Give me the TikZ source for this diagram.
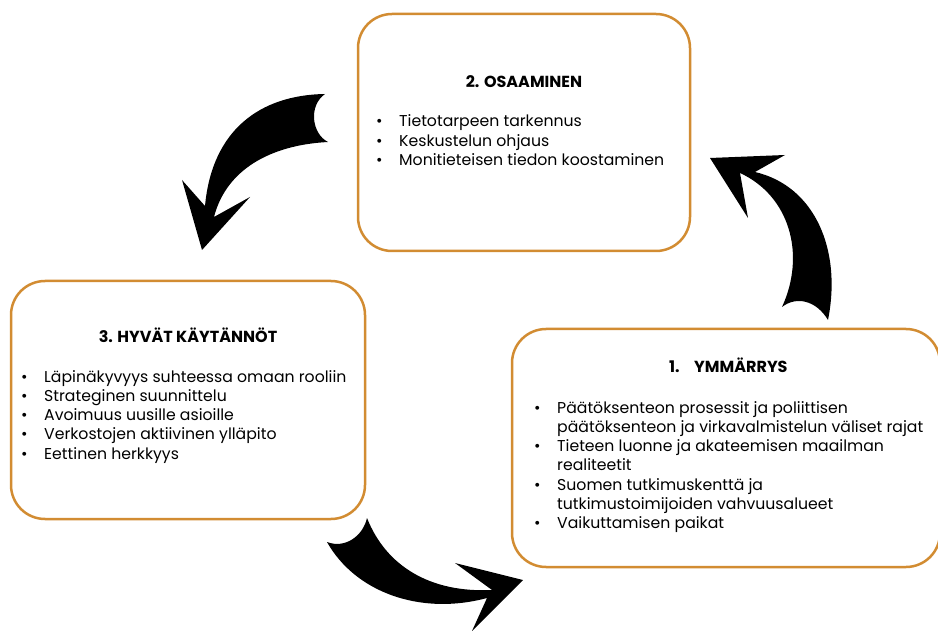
\documentclass[tikz,border=0pt]{standalone}
\usepackage{fontspec}
\setmainfont{Poppins}
\usetikzlibrary{positioning}
\definecolor{kulta}{RGB}{210,140,50}
\tikzset{
  laatikko/.style={draw=kulta, line width=2.5pt, rounded corners=34pt, fill=white},
  otsikko/.style={font=\fontsize{16}{19}\selectfont\bfseries, inner sep=0pt},
  lista/.style={font=\fontsize{15.7}{19.3}\selectfont, inner sep=0pt, anchor=base west},
  nuoli/.style={fill=black}
}
\newcommand{\kohta}{\textbullet}
\newcommand{\luettelo}[1]{\begin{tabular}[t]{@{}p{23pt}@{}l@{}}#1\end{tabular}}

\begin{document}
\begin{tikzpicture}[x=1pt,y=-1pt]
    \useasboundingbox (0,0) rectangle (938,631);
    \clip (0,0) rectangle (938,631);

    \node[laatikko, minimum width=332pt, minimum height=237pt] (osaaminen) at (524,132.5) {} ;
    \node[laatikko, minimum width=354pt, minimum height=238pt] (kaytannot) at (188,400) {} ;
    \node[laatikko, minimum width=428pt, minimum height=238pt] (ymmarrys) at (726,448) {} ;

    \node[otsikko, anchor=base] (osaaminen_otsikko) at (524,88) {2. OSAAMINEN} ;
    \node[otsikko, anchor=base] (kaytannot_otsikko) at (188,343) {3. HYVÄT KÄYTÄNNÖT} ;
    \node[otsikko, anchor=base west] (ymmarrys_otsikko) at (669,372) {1.\hspace{10pt} YMMÄRRYS} ;

    \node[lista] (osaaminen_lista) at (376,127) {\luettelo{
        \kohta & Tietotarpeen tarkennus\\
        \kohta & Keskustelun ohjaus\\
        \kohta & Monitieteisen tiedon koostaminen}} ;
    \node[lista] (kaytannot_lista) at (21,382) {\luettelo{
        \kohta & Läpinäkyvyys suhteessa omaan rooliin\\
        \kohta & Strateginen suunnittelu\\
        \kohta & Avoimuus uusille asioille\\
        \kohta & Verkostojen aktiivinen ylläpito\\
        \kohta & Eettinen herkkyys}} ;
    \node[lista] (ymmarrys_lista) at (534,413) {\luettelo{
        \kohta & Päätöksenteon prosessit ja poliittisen\\
               & päätöksenteon ja virkavalmistelun väliset rajat\\
        \kohta & Tieteen luonne ja akateemisen maailman\\
               & realiteetit\\
        \kohta & Suomen tutkimuskenttä ja\\
               & tutkimustoimijoiden vahvuusalueet\\
        \kohta & Vaikuttamisen paikat}} ;

    % kaarevat nuolet
    \fill[nuoli] (325,94) .. controls (260,95) and (212,130) .. (205,206) -- (182,180) -- (202,250)
        -- (250,197) -- (214,217) .. controls (226,170) and (270,145) .. (328,142)
        .. controls (312,134) and (308,106) .. (325,94) -- cycle ;
    \fill[nuoli] (828,320) .. controls (842,250) and (815,186) .. (755,172) -- (785,155) -- (710,158)
        -- (748,218) -- (740,173) .. controls (790,196) and (806,255) .. (782,307)
        .. controls (796,296) and (816,300) .. (828,320) -- cycle ;
    \fill[nuoli] (367,518) .. controls (386,566) and (430,593) .. (492,590) -- (455,563) -- (523,580)
        -- (472,631) -- (487,598) .. controls (420,616) and (355,592) .. (327,542)
        .. controls (345,549) and (363,536) .. (367,518) -- cycle ;
\end{tikzpicture}
\end{document}
